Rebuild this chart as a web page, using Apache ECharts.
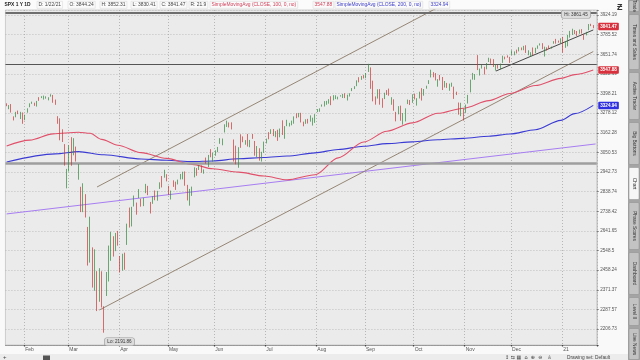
<!DOCTYPE html>
<html><head><meta charset="utf-8">
<script src="https://cdn.jsdelivr.net/npm/echarts@6/dist/echarts.min.js"></script>
<style>html,body{margin:0;padding:0;background:#f9f9f9;}#c{width:640px;height:360px;}</style>
</head><body><div id="c"></div>
<script>
const dates = ['1/22/20','1/23/20','1/24/20','1/27/20','1/28/20','1/29/20','1/30/20','1/31/20',
'2/3/20','2/4/20','2/5/20','2/6/20','2/7/20','2/10/20','2/11/20','2/12/20','2/13/20','2/14/20','2/18/20','2/19/20','2/20/20','2/21/20','2/24/20','2/25/20','2/26/20','2/27/20','2/28/20',
'3/2/20','3/3/20','3/4/20','3/5/20','3/6/20','3/9/20','3/10/20','3/11/20','3/12/20','3/13/20','3/16/20','3/17/20','3/18/20','3/19/20','3/20/20','3/23/20','3/24/20','3/25/20','3/26/20','3/27/20','3/30/20','3/31/20',
'4/1/20','4/2/20','4/3/20','4/6/20','4/7/20','4/8/20','4/9/20','4/13/20','4/14/20','4/15/20','4/16/20','4/17/20','4/20/20','4/21/20','4/22/20','4/23/20','4/24/20','4/27/20','4/28/20','4/29/20','4/30/20',
'5/1/20','5/4/20','5/5/20','5/6/20','5/7/20','5/8/20','5/11/20','5/12/20','5/13/20','5/14/20','5/15/20','5/18/20','5/19/20','5/20/20','5/21/20','5/22/20','5/26/20','5/27/20','5/28/20','5/29/20',
'6/1/20','6/2/20','6/3/20','6/4/20','6/5/20','6/8/20','6/9/20','6/10/20','6/11/20','6/12/20','6/15/20','6/16/20','6/17/20','6/18/20','6/19/20','6/22/20','6/23/20','6/24/20','6/25/20','6/26/20','6/29/20','6/30/20',
'7/1/20','7/2/20','7/6/20','7/7/20','7/8/20','7/9/20','7/10/20','7/13/20','7/14/20','7/15/20','7/16/20','7/17/20','7/20/20','7/21/20','7/22/20','7/23/20','7/24/20','7/27/20','7/28/20','7/29/20','7/30/20','7/31/20',
'8/3/20','8/4/20','8/5/20','8/6/20','8/7/20','8/10/20','8/11/20','8/12/20','8/13/20','8/14/20','8/17/20','8/18/20','8/19/20','8/20/20','8/21/20','8/24/20','8/25/20','8/26/20','8/27/20','8/28/20','8/31/20',
'9/1/20','9/2/20','9/3/20','9/4/20','9/8/20','9/9/20','9/10/20','9/11/20','9/14/20','9/15/20','9/16/20','9/17/20','9/18/20','9/21/20','9/22/20','9/23/20','9/24/20','9/25/20','9/28/20','9/29/20','9/30/20',
'10/1/20','10/2/20','10/5/20','10/6/20','10/7/20','10/8/20','10/9/20','10/12/20','10/13/20','10/14/20','10/15/20','10/16/20','10/19/20','10/20/20','10/21/20','10/22/20','10/23/20','10/26/20','10/27/20','10/28/20','10/29/20','10/30/20',
'11/2/20','11/3/20','11/4/20','11/5/20','11/6/20','11/9/20','11/10/20','11/11/20','11/12/20','11/13/20','11/16/20','11/17/20','11/18/20','11/19/20','11/20/20','11/23/20','11/24/20','11/25/20','11/27/20','11/30/20',
'12/1/20','12/2/20','12/3/20','12/4/20','12/7/20','12/8/20','12/9/20','12/10/20','12/11/20','12/14/20','12/15/20','12/16/20','12/17/20','12/18/20','12/21/20','12/22/20','12/23/20','12/24/20','12/28/20','12/29/20','12/30/20','12/31/20',
'1/4/21','1/5/21','1/6/21','1/7/21','1/8/21','1/11/21','1/12/21','1/13/21','1/14/21','1/15/21','1/19/21','1/20/21','1/21/21','1/22/21'];

const opens = [3330.02,3315.77,3333.10,3247.16,3255.35,3289.46,3256.45,3282.33,
3235.66,3280.61,3324.91,3344.92,3335.54,3318.28,3365.87,3370.50,3365.90,3378.08,3369.04,3380.39,3380.45,3360.50,3257.61,3238.94,3139.90,3062.54,2916.90,
2974.28,3096.46,3045.75,3075.70,2954.20,2863.89,2813.48,2825.60,2630.86,2569.99,2508.59,2425.66,2436.50,2393.48,2431.94,2290.71,2344.44,2457.77,2501.29,2555.87,2558.98,2614.69,
2498.08,2458.54,2514.92,2578.28,2738.65,2685.00,2776.99,2782.46,2805.10,2795.64,2799.34,2842.43,2845.62,2784.81,2787.89,2810.42,2812.64,2854.65,2909.96,2918.46,2930.91,
2869.09,2815.01,2868.88,2883.14,2878.26,2908.83,2915.46,2939.50,2865.86,2794.54,2829.95,2913.86,2948.59,2953.63,2969.95,2948.05,3004.08,3015.65,3046.61,3025.17,
3038.78,3064.78,3098.90,3111.56,3163.84,3199.92,3213.32,3213.42,3123.53,3071.04,2993.76,3131.00,3136.13,3101.64,3140.29,3094.42,3138.70,3114.40,3046.60,3073.20,3018.59,3050.20,
3105.92,3143.64,3155.29,3166.44,3153.07,3176.17,3152.47,3205.08,3141.11,3225.98,3208.36,3224.21,3224.29,3268.52,3254.86,3271.64,3218.58,3219.84,3234.27,3227.22,3231.76,3270.45,
3288.26,3289.92,3317.37,3323.17,3340.05,3356.04,3370.34,3355.46,3372.95,3368.66,3380.86,3387.04,3392.51,3360.48,3386.01,3418.09,3435.95,3449.97,3485.14,3494.69,3509.73,
3507.44,3543.76,3564.74,3453.60,3371.88,3369.82,3412.56,3352.70,3363.56,3407.73,3411.23,3346.86,3357.38,3285.57,3295.75,3320.11,3226.14,3236.66,3333.90,3350.92,3341.21,
3385.87,3338.94,3367.27,3408.74,3384.56,3434.28,3459.67,3500.02,3534.01,3515.47,3453.72,3493.50,3493.66,3439.38,3439.91,3438.50,3464.90,3441.42,3403.15,3342.48,3277.17,3293.59,
3296.20,3336.25,3406.46,3485.74,3508.34,3583.04,3543.26,3563.22,3562.67,3552.57,3600.16,3610.31,3612.09,3559.41,3579.31,3566.82,3594.52,3635.50,3638.55,3634.18,
3645.87,3653.78,3668.28,3670.94,3694.73,3683.05,3705.98,3659.13,3656.08,3675.27,3666.41,3696.25,3713.65,3722.39,3684.28,3698.08,3693.42,3694.03,3723.03,3750.01,3736.19,3733.27,
3764.61,3698.02,3712.20,3764.71,3815.05,3803.14,3801.62,3802.23,3814.98,3788.73,3781.88,3816.22,3857.46,3844.24];

const highs = [3337.77,3326.88,3333.18,3258.85,3285.78,3293.47,3285.91,3282.33,
3268.44,3306.92,3337.58,3347.96,3341.42,3352.26,3375.63,3381.47,3385.09,3380.69,3375.01,3393.52,3389.15,3360.76,3259.81,3246.99,3182.51,3097.07,2959.72,
3090.96,3136.72,3130.97,3083.04,2985.93,2863.89,2882.59,2825.60,2660.95,2711.33,2562.98,2553.93,2453.57,2466.97,2453.01,2300.73,2449.71,2571.42,2637.01,2615.91,2631.80,2641.39,
2522.75,2533.22,2538.18,2676.85,2756.89,2760.75,2818.57,2782.46,2851.85,2801.88,2806.51,2879.22,2868.98,2785.54,2815.10,2844.90,2842.71,2887.72,2921.15,2954.86,2930.91,
2869.09,2844.24,2898.23,2891.11,2901.92,2932.16,2944.25,2945.82,2874.14,2852.80,2865.01,2968.09,2964.21,2980.29,2978.50,2956.76,3021.72,3036.25,3068.67,3049.17,
3062.18,3081.07,3130.94,3128.91,3211.72,3233.13,3222.71,3223.27,3123.53,3088.42,3079.76,3153.45,3141.16,3120.00,3155.53,3120.92,3154.90,3115.01,3086.25,3073.73,3053.89,3111.51,
3128.44,3165.81,3182.59,3184.15,3171.80,3179.78,3186.82,3235.32,3200.95,3238.28,3220.39,3233.52,3258.61,3277.29,3279.32,3279.99,3227.26,3241.43,3243.72,3264.74,3250.92,3272.17,
3302.73,3306.84,3330.77,3351.03,3352.54,3363.29,3381.01,3387.89,3387.24,3378.51,3387.59,3395.06,3399.54,3390.80,3399.96,3432.09,3444.21,3481.07,3501.38,3509.23,3514.77,
3528.03,3588.11,3564.85,3479.15,3379.97,3424.77,3425.55,3368.95,3402.93,3419.48,3428.92,3375.17,3362.27,3285.57,3320.31,3323.35,3278.70,3306.88,3360.74,3357.92,3393.56,
3397.18,3369.10,3409.57,3431.56,3426.26,3447.28,3482.34,3549.85,3534.01,3527.94,3489.08,3515.76,3502.42,3476.93,3464.86,3460.53,3466.46,3441.42,3409.51,3342.48,3341.05,3304.93,
3330.14,3389.49,3486.25,3529.05,3521.58,3645.99,3557.22,3581.16,3569.02,3593.66,3628.51,3623.11,3619.09,3585.22,3581.23,3589.81,3642.31,3635.50,3644.31,3634.18,
3678.45,3670.96,3682.73,3699.20,3697.41,3708.45,3712.39,3678.49,3665.91,3697.61,3695.29,3711.27,3725.12,3726.70,3702.90,3698.26,3711.24,3703.82,3740.51,3756.12,3744.63,3760.20,
3769.99,3737.83,3783.04,3811.55,3826.69,3817.86,3810.78,3820.96,3823.60,3788.73,3804.53,3859.75,3861.45,3852.31];

const lows = [3320.04,3301.87,3281.53,3234.50,3253.22,3271.89,3242.80,3214.68,
3235.66,3280.61,3313.75,3334.39,3322.12,3317.77,3352.72,3369.72,3360.52,3366.15,3355.61,3378.83,3341.02,3328.45,3214.65,3118.77,3108.99,2977.39,2855.84,
2945.19,2976.63,3034.38,2999.83,2901.54,2734.43,2734.00,2707.22,2478.86,2492.37,2380.94,2367.04,2280.52,2319.78,2295.56,2191.86,2344.44,2407.53,2500.72,2520.02,2545.28,2571.15,
2447.49,2455.79,2459.96,2574.57,2657.67,2663.30,2762.36,2721.17,2805.10,2761.54,2764.32,2830.88,2820.43,2727.10,2775.95,2794.26,2791.76,2852.89,2860.71,2912.16,2892.47,
2821.61,2797.85,2863.55,2847.65,2876.48,2902.88,2903.44,2869.59,2793.15,2766.64,2816.78,2913.86,2922.35,2953.63,2938.57,2933.59,2988.17,2969.75,3023.40,2998.61,
3031.54,3051.64,3098.90,3090.41,3163.84,3196.00,3193.11,3181.49,2999.49,2984.47,2965.66,3076.06,3108.03,3093.51,3083.11,3079.39,3127.12,3032.13,3024.01,3004.63,2999.74,3047.83,
3101.17,3124.52,3155.29,3142.93,3136.53,3115.70,3136.22,3149.43,3127.66,3200.76,3198.59,3205.65,3215.16,3247.77,3253.10,3222.66,3200.05,3214.25,3216.17,3227.22,3204.13,3220.26,
3284.53,3286.37,3317.37,3318.14,3328.72,3335.44,3326.44,3355.46,3363.35,3361.64,3379.22,3370.15,3369.66,3354.69,3379.31,3413.13,3425.84,3444.15,3468.35,3484.32,3493.25,
3494.60,3535.23,3427.41,3349.63,3329.27,3366.84,3329.25,3310.47,3363.56,3389.25,3384.45,3328.82,3292.40,3229.10,3270.95,3232.57,3209.45,3228.44,3332.91,3327.54,3340.47,
3361.39,3323.69,3367.27,3354.54,3384.56,3428.15,3458.07,3499.61,3500.86,3480.55,3440.89,3480.45,3419.93,3435.65,3433.06,3415.34,3440.45,3364.86,3388.71,3268.89,3259.82,3233.94,
3279.74,3336.25,3405.17,3485.74,3484.34,3547.48,3511.91,3557.00,3518.58,3552.57,3600.16,3588.68,3567.33,3543.84,3556.85,3552.77,3594.52,3617.76,3629.33,3594.39,
3645.87,3644.84,3657.17,3670.94,3678.88,3678.83,3660.54,3645.18,3633.40,3645.84,3659.62,3688.57,3710.87,3685.84,3636.48,3676.16,3689.28,3689.32,3723.03,3723.31,3730.21,3726.88,
3662.71,3695.07,3705.34,3764.71,3783.60,3789.02,3776.51,3791.50,3792.86,3749.62,3780.37,3816.22,3845.05,3830.41];

const closes = [3321.75,3325.54,3295.47,3243.63,3276.24,3273.40,3283.66,3225.52,
3248.92,3297.59,3334.69,3345.78,3327.71,3352.09,3357.75,3379.45,3373.94,3380.16,3370.29,3386.15,3373.23,3337.75,3225.89,3128.21,3116.39,2978.76,2954.22,
3090.23,3003.37,3130.12,3023.94,2972.37,2746.56,2882.23,2741.38,2480.64,2711.02,2386.13,2529.19,2398.10,2409.39,2304.92,2237.40,2447.33,2475.56,2630.07,2541.47,2626.65,2584.59,
2470.50,2526.90,2488.65,2663.68,2659.41,2749.98,2789.82,2761.63,2846.06,2783.36,2799.55,2874.56,2823.16,2736.56,2799.31,2797.80,2836.74,2878.48,2863.39,2939.51,2912.43,
2830.71,2842.74,2868.44,2848.42,2881.19,2929.80,2930.32,2870.12,2820.00,2852.50,2863.70,2953.91,2922.94,2971.61,2948.51,2955.45,2991.77,3036.13,3029.73,3044.31,
3055.73,3080.82,3122.87,3112.35,3193.93,3232.39,3207.18,3190.14,3002.10,3041.31,3066.59,3124.74,3113.49,3115.34,3097.74,3117.86,3131.29,3050.33,3083.76,3009.05,3053.24,3100.29,
3115.86,3130.01,3179.72,3145.32,3169.94,3152.05,3185.04,3155.22,3197.52,3226.56,3215.57,3224.73,3251.84,3257.30,3276.02,3235.66,3215.63,3239.41,3218.44,3258.44,3246.22,3271.12,
3294.61,3306.51,3327.77,3349.16,3351.28,3360.47,3333.69,3380.35,3373.43,3372.85,3381.99,3389.78,3374.85,3385.51,3397.16,3431.28,3443.62,3478.73,3484.55,3508.01,3500.31,
3526.65,3580.84,3455.06,3426.96,3331.84,3398.96,3339.19,3340.97,3383.54,3401.20,3385.49,3357.01,3319.47,3281.06,3315.57,3236.92,3246.59,3298.46,3351.60,3335.47,3363.00,
3380.80,3348.42,3408.60,3360.97,3419.44,3446.83,3477.14,3534.22,3511.93,3488.67,3483.34,3483.81,3426.92,3443.12,3435.56,3453.49,3465.39,3400.97,3390.68,3271.03,3310.11,3269.96,
3310.24,3369.16,3443.44,3510.45,3509.44,3550.50,3545.53,3572.66,3537.01,3585.15,3626.91,3609.53,3567.79,3581.87,3557.54,3577.59,3635.41,3629.65,3638.35,3621.63,
3662.45,3669.01,3666.72,3699.12,3691.96,3702.25,3672.82,3668.10,3663.46,3647.49,3694.62,3701.17,3722.48,3709.41,3694.92,3687.26,3690.01,3703.06,3735.36,3727.04,3732.04,3756.07,
3700.65,3726.86,3748.14,3803.79,3824.68,3799.61,3801.19,3809.84,3795.54,3768.25,3798.91,3851.85,3853.07,3841.47];

const sma100Dates = ['1/22/20','2/5/20','2/20/20','3/6/20','3/13/20','3/20/20','3/31/20','4/15/20','4/30/20','5/15/20','5/29/20','6/15/20','6/30/20','7/15/20','7/31/20','8/14/20','8/31/20','9/15/20','9/30/20','10/15/20','10/30/20','11/16/20','11/30/20','12/15/20','12/31/20','1/11/21','1/22/21'];
const sma100Values = [3087,3120,3156,3165,3159,3124,3091,3049,3017,2984,2960,2942,2921,2901,2928,3020,3109,3171,3220,3277,3308,3354,3398,3448,3494,3518,3547.88];

const sma200Dates = ['1/22/20','2/21/20','3/6/20','3/23/20','4/15/20','4/30/20','5/15/20','5/29/20','6/15/20','6/30/20','7/15/20','7/31/20','8/14/20','8/31/20','9/15/20','9/30/20','10/15/20','10/30/20','11/16/20','11/30/20','12/15/20','12/31/20','1/11/21','1/22/21'];
const sma200Values = [2997,3042,3055,3037,3014,3007,2999,3003,3015,3022,3030,3048,3067,3085,3100,3110,3122,3130,3142,3155,3180,3235,3275,3324.94];

// drawn trend lines: [startDate, startPrice, endDate, endPrice]
const upperChannel = ['3/18/20', 2863, '10/30/20', 4078];
const lowerChannel = ['3/19/20', 2285, '1/22/21', 3670];
const recentTrend  = ['11/19/20', 3541, '1/22/21', 3818];
const purpleTrend  = ['1/22/20', 2725, '', 3098];
const hLinePrices  = [3938, 3588.11, 2992];

const yTickLabels = ['2206.73','2287.57','2371.37','2458.24','2548.5','2641.65','2738.42','2838.74','2942.73','3050.53','3162.28','3278.12','3398.21','3522.69','3651.74','3785.52','3924.19'];
const monthStarts = ['2/3/20','3/2/20','4/1/20','5/1/20','6/1/20','7/1/20','8/3/20','9/1/20','10/1/20','11/2/20','12/1/20','1/4/21'];
const monthNames  = ['Feb','Mar','Apr','May','Jun','Jul','Aug','Sep','Oct','Nov','Dec','21'];

const lastClose = 3841.47, sma100Last = 3547.88, sma200Last = 3324.94;

// log scale: 64 steps per decade
const K = p => 64 * Math.log10(p);
const xData = dates.concat(['']);
const ix = d => xData.indexOf(d);
const isMonth = (i, v) => monthStarts.indexOf(v) >= 0;
const FONT = 'Liberation Sans, Arial, sans-serif';

const candleData = dates.map((d, i) => [K(opens[i]), K(closes[i]), K(lows[i]), K(highs[i])]);
const hiVal = Math.max(...highs), loVal = Math.min(...lows);
const hiIdx = highs.indexOf(hiVal), loIdx = lows.indexOf(loVal);

function trend(t) { return [[ix(t[0]), K(t[1])], [ix(t[2]), K(t[3])]]; }
const badgeLabel = (val, color) => ({ show: true, position: 'end', distance: 1.5, formatter: val.toFixed(2),
  backgroundColor: color, color: '#fff', fontSize: 4.6, fontFamily: FONT, fontWeight: 'bold',
  padding: [1.5, 2, 1, 2], borderRadius: 1 });
function badge(val, color) {
  return {
    symbol: 'none', silent: true, animation: false,
    lineStyle: { color: 'rgba(0,0,0,0)', width: 0 },
    label: badgeLabel(val, color),
    data: [{ yAxis: K(val) }]
  };
}

const chart = echarts.init(document.getElementById('c'), null, { renderer: 'canvas' });

const header = [
  { t: 'SPX 1 Y 1D', x: 3, c: '#222', b: true },
  { t: 'D: 1/22/21', x: 37, c: '#444' },
  { t: 'O: 3844.24', x: 68, c: '#444' },
  { t: 'H: 3852.31', x: 100, c: '#444' },
  { t: 'L: 3830.41', x: 131, c: '#444' },
  { t: 'C: 3841.47', x: 160, c: '#444' },
  { t: 'R: 21.9', x: 189, c: '#444' },
  { t: 'SimpleMovingAvg (CLOSE, 100, 0, no)', x: 210, c: '#d0405a' },
  { t: '3547.88', x: 313, c: '#d0405a' },
  { t: 'SimpleMovingAvg (CLOSE, 200, 0, no)', x: 335, c: '#3a3ac8' },
  { t: '3324.94', x: 429, c: '#3a3ac8' }
];
const tabs = [
  { t: 'Trade', y0: 0, y1: 12 },
  { t: 'Times and Sales', y0: 14, y1: 70 },
  { t: 'Active Trader', y0: 72, y1: 120 },
  { t: 'Big Buttons', y0: 122, y1: 165 },
  { t: 'Chart', y0: 167, y1: 200, active: true },
  { t: 'Phase Scores', y0: 202, y1: 250 },
  { t: 'Dashboard', y0: 252, y1: 295 },
  { t: 'Level II', y0: 297, y1: 326 },
  { t: 'Live News', y0: 328, y1: 360 }
];
const graphic = [];
graphic.push({ type: 'rect', shape: { x: 0, y: 0, width: 628, height: 9.5 }, style: { fill: '#fbfbfb' }, z: -10 });
header.forEach(h => graphic.push({ type: 'text', x: h.x, y: 4.8, style: {
  text: h.t, fill: h.c, fontSize: 4.9, fontFamily: FONT, fontWeight: h.b ? 'bold' : 'normal',
  textVerticalAlign: 'middle', borderColor: h.b ? 'transparent' : '#d6d6d6', borderWidth: 0.5, padding: [1, 1.5] } }));
graphic.push({ type: 'rect', shape: { x: 628, y: 0, width: 12, height: 360 }, style: { fill: '#a4a4a4' } });
tabs.forEach(tb => {
  graphic.push({ type: 'rect', shape: { x: 629, y: tb.y0 + 0.5, width: 10, height: tb.y1 - tb.y0 - 1, r: 1 },
    style: { fill: tb.active ? '#f6f6f6' : '#c3c3c3', stroke: '#8c8c8c', lineWidth: 0.5 } });
  graphic.push({ type: 'text', x: 634, y: (tb.y0 + tb.y1) / 2, rotation: -Math.PI / 2,
    style: { text: tb.t, fill: '#333', fontSize: 4.8, fontFamily: FONT, textAlign: 'center', textVerticalAlign: 'middle' } });
});
// top-right studies icon and bottom toolbar
graphic.push({ type: 'text', x: 617, y: 3, style: { text: 'Ƶ', fill: '#333', fontSize: 9, fontFamily: FONT, fontWeight: 'bold' } });
graphic.push({ type: 'rect', shape: { x: 0, y: 354, width: 628, height: 6 }, style: { fill: '#ececec' } });
graphic.push({ type: 'text', x: 3, y: 357, style: { text: '+', fill: '#444', fontSize: 6, fontFamily: FONT, textVerticalAlign: 'middle' } });
graphic.push({ type: 'rect', shape: { x: 43, y: 355.5, width: 7, height: 4.5 }, style: { fill: '#555' } });
graphic.push({ type: 'text', x: 505, y: 357.5, style: { text: '↕ ⇆ ▦  ⌂  ⊕  ⊖   ♙', fill: '#444', fontSize: 5, fontFamily: 'DejaVu Sans', textVerticalAlign: 'middle' } });
graphic.push({ type: 'text', x: 567, y: 357.5, style: { text: 'Drawing set: Default', fill: '#444', fontSize: 4.8, fontFamily: FONT, textVerticalAlign: 'middle' } });

chart.setOption({
  animation: false,
  backgroundColor: '#f9f9f9',
  graphic: graphic,
  grid: { left: 5.45, top: 10, width: 591.3, height: 335, show: true, backgroundColor: '#ebebeb', borderColor: '#b5b5b5', borderWidth: 0.6 },
  xAxis: {
    type: 'category', data: xData, boundaryGap: true,
    axisLine: { show: true, lineStyle: { color: '#8a8a8a', width: 0.8 } },
    axisTick: { show: true, interval: isMonth, length: 1.5, lineStyle: { color: '#444', width: 1.2 } },
    axisLabel: { show: true, interval: isMonth, formatter: v => monthNames[monthStarts.indexOf(v)] || '',
      align: 'left', margin: 2.5, fontSize: 5, color: '#555', fontFamily: FONT },
    splitLine: { show: true, interval: isMonth, lineStyle: { color: '#a8a8a8', type: [1, 2], width: 0.8 } }
  },
  yAxis: {
    type: 'value', position: 'right', min: 213.185, max: 230.255, minInterval: 1, maxInterval: 1, splitNumber: 17,
    axisLine: { show: true, lineStyle: { color: '#b0b0b0', width: 0.6 } },
    axisTick: { show: true, length: 2, lineStyle: { color: '#666', width: 0.8 } },
    axisLabel: { show: true, margin: 3.5, fontSize: 4.6, color: '#555', fontFamily: FONT,
      formatter: v => { const r = Math.round(v); if (Math.abs(v - r) > 1e-6) return ''; return yTickLabels[r - 214] || ''; } },
    splitLine: { show: true, lineStyle: { color: '#b2b2b2', type: [1, 2], width: 0.8 } }
  },
  series: [
    { name: 'purple', type: 'line', data: trend(purpleTrend), symbol: 'none', lineStyle: { color: '#a77ef2', width: 1 }, z: 2 },
    { name: 'upper', type: 'line', data: trend(upperChannel), symbol: 'none', clip: true, lineStyle: { color: '#8b7a68', width: 0.9 }, z: 2 },
    { name: 'lower', type: 'line', data: trend(lowerChannel), symbol: 'none', lineStyle: { color: '#8b7a68', width: 0.9 }, z: 2 },
    { name: 'recent', type: 'line', data: trend(recentTrend), symbol: 'none', lineStyle: { color: '#333', width: 0.9 }, z: 4 },
    { name: 'SMA200', type: 'line', data: sma200Dates.map((d, j) => [ix(d), K(sma200Values[j])]), symbol: 'none', smooth: 0.3, smoothMonotone: 'x',
      lineStyle: { color: '#3b3bd4', width: 1.1 }, z: 3, markLine: badge(sma200Last, '#2f2fe0') },
    { name: 'SMA100', type: 'line', data: sma100Dates.map((d, j) => [ix(d), K(sma100Values[j])]), symbol: 'none', smooth: 0.3, smoothMonotone: 'x',
      lineStyle: { color: '#e0506a', width: 1.1 }, z: 3, markLine: badge(sma100Last, '#d8303c') },
    { name: 'SPX', type: 'candlestick', data: candleData, barWidth: 1.3, z: 5,
      itemStyle: { color: '#2e8b3e', color0: '#cc3333', borderColor: '#2e8b3e', borderColor0: '#cc3333', borderWidth: 0.7 },
      markLine: {
        symbol: 'none', silent: true, animation: false, label: { show: false },
        data: [
          { yAxis: K(hLinePrices[0]), lineStyle: { color: '#6e6e6e', width: 2, type: 'solid' } },
          { yAxis: K(hLinePrices[1]), lineStyle: { color: '#555', width: 1.1, type: 'solid' } },
          { yAxis: K(hLinePrices[2]), lineStyle: { color: '#9e9e9e', width: 2.5, type: 'solid' } },
          { yAxis: K(lastClose), lineStyle: { color: 'rgba(0,0,0,0)', width: 0 }, label: badgeLabel(lastClose, '#d8303c') }
        ]
      },
      markPoint: {
        symbol: 'circle', symbolSize: 0.1, itemStyle: { color: 'transparent' }, silent: true,
        data: [
          { coord: [hiIdx, K(hiVal)], label: { show: true, formatter: 'Hi: ' + hiVal.toFixed(2), offset: [-15, -9.5],
            backgroundColor: '#dcdcdc', borderColor: '#999', borderWidth: 0.6, borderRadius: 2, padding: [1.2, 2.5], color: '#333', fontSize: 4.6, fontFamily: FONT } },
          { coord: [loIdx, K(loVal)], label: { show: true, formatter: 'Lo: ' + loVal.toFixed(2), offset: [15.5, 9],
            backgroundColor: '#dcdcdc', borderColor: '#999', borderWidth: 0.6, borderRadius: 2, padding: [1.2, 2.5], color: '#333', fontSize: 4.6, fontFamily: FONT } }
        ]
      }
    }
  ]
});
</script></body></html>
